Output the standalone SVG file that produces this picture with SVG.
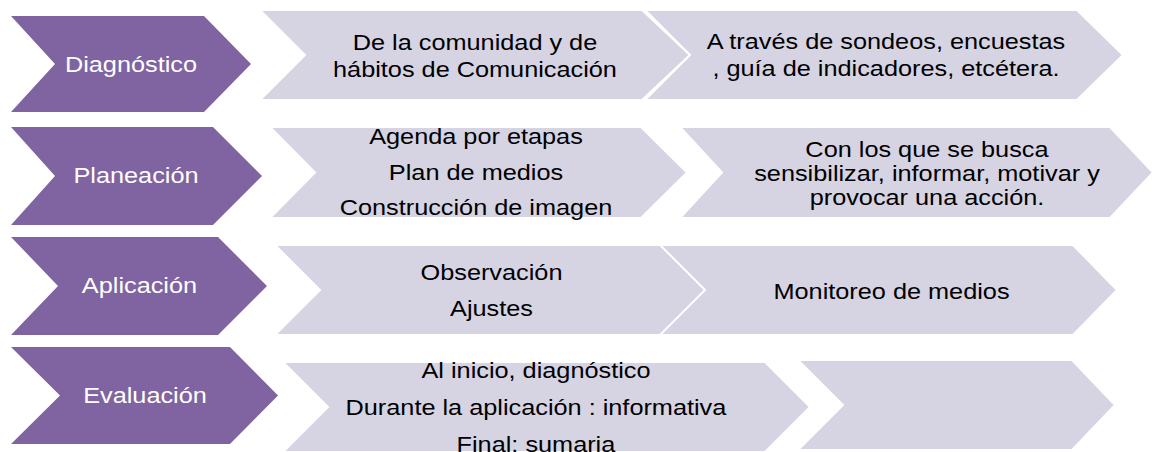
<svg xmlns="http://www.w3.org/2000/svg" width="1155" height="452" viewBox="0 0 1155 452">
<style>
.p{fill:#8064a2}
.g{fill:#d6d3e3;stroke:#ffffff;stroke-width:2;stroke-linejoin:miter}
text{font-family:"Liberation Sans",Arial,sans-serif;font-size:22px;text-anchor:middle;transform-box:fill-box;transform-origin:center;transform:scaleX(1.15)}
.lt{fill:#ffffff}
.dt{fill:#000000}
</style>
<rect width="1155" height="452" fill="#ffffff"/>
<g id="row1-diagnostico">
<polygon class="p" points="11,16 204,16 251,64 204,112 11,112 55,64"/>
<text class="lt" x="131" y="72">Diagnóstico</text>
</g>
<g id="row1-detail1">
<polygon class="g" points="260,10 642,10 690,55 642,100 260,100 305,55"/>
<text class="dt" x="475" y="50">De la comunidad y de</text>
<text class="dt" x="475" y="77">hábitos de Comunicación</text>
</g>
<g id="row1-detail2">
<polygon class="g" points="645,10 1077,10 1123,55 1077,100 645,100 690,55"/>
<text class="dt" x="886" y="49">A través de sondeos, encuestas</text>
<text class="dt" x="886" y="76">, guía de indicadores, etcétera.</text>
</g>
<g id="row2-planeacion">
<polygon class="p" points="11,127 213,127 262,176 213,225 11,225 55,176"/>
<text class="lt" x="136" y="183">Planeación</text>
</g>
<g id="row2-detail1">
<polygon class="g" points="270,127 641,127 687,172.5 641,218 270,218 315,172.5"/>
<text class="dt" x="476" y="144">Agenda por etapas</text>
<text class="dt" x="476" y="180">Plan de medios</text>
<text class="dt" x="476" y="215">Construcción de imagen</text>
</g>
<g id="row2-detail2">
<polygon class="g" points="680,127 1110,127 1153,172.5 1110,218 680,218 722,172.5"/>
<text class="dt" x="927" y="157">Con los que se busca</text>
<text class="dt" x="927" y="181">sensibilizar, informar, motivar y</text>
<text class="dt" x="927" y="205">provocar una acción.</text>
</g>
<g id="row3-aplicacion">
<polygon class="p" points="11,237 218,237 267,286 218,335 11,335 58,286"/>
<text class="lt" x="139.5" y="293">Aplicación</text>
</g>
<g id="row3-detail1">
<polygon class="g" points="275,245 662,245 707,290 662,335 275,335 320,290"/>
<text class="dt" x="491.5" y="280">Observación</text>
<text class="dt" x="491.5" y="316">Ajustes</text>
</g>
<g id="row3-detail2">
<polygon class="g" points="660,245 1073,245 1117,290 1073,335 660,335 705,290"/>
<text class="dt" x="891.5" y="299">Monitoreo de medios</text>
</g>
<g id="row4-evaluacion">
<polygon class="p" points="11,347 230,347 278,395.5 230,444 11,444 60,395.5"/>
<text class="lt" x="145" y="403">Evaluación</text>
</g>
<g id="row4-detail1">
<polygon class="g" points="283,362 765,362 810,407 765,452 283,452 328,407"/>
<text class="dt" x="536" y="378">Al inicio, diagnóstico</text>
<text class="dt" x="536" y="415">Durante la aplicación : informativa</text>
<text class="dt" x="536" y="452">Final: sumaria</text>
</g>
<g id="row4-detail2">
<polygon class="g" points="798,360 1072,360 1115,405 1072,450 798,450 843,405"/>
</g>
<g id="connectors"/>
</svg>
